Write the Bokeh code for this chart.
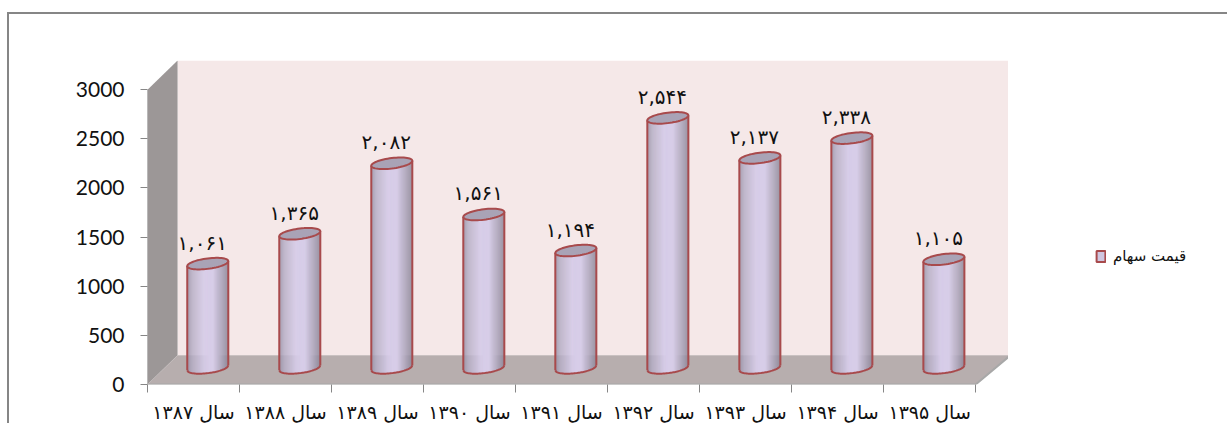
import numpy as np
from bokeh.plotting import figure
from bokeh.layouts import row
from bokeh.models import (Range1d, LinearAxis, FixedTicker, Legend, LegendItem)
from bokeh.core.properties import value
from bokeh.embed import file_html
from bokeh.resources import INLINE

categories = ["سال ۱۳۸۷", "سال ۱۳۸۸", "سال ۱۳۸۹", "سال ۱۳۹۰", "سال ۱۳۹۱", "سال ۱۳۹۲", "سال ۱۳۹۳", "سال ۱۳۹۴", "سال ۱۳۹۵"]
prices = [1061, 1365, 2082, 1561, 1194, 2544, 2137, 2338, 1105]
price_labels = ["۱,۰۶۱", "۱,۳۶۵", "۲,۰۸۲", "۱,۵۶۱", "۱,۱۹۴", "۲,۵۴۴", "۲,۱۳۷", "۲,۳۳۸", "۱,۱۰۵"]
y_ticks = [0, 500, 1000, 1500, 2000, 2500, 3000]
series_name = "قیمت سهام"

LABEL_FONT = "DejaVu Sans"
TICK_FONT = "Lato"

n = len(categories)
ymax = y_ticks[-1]
px_per_cat = 91.8
px_per_unit = 293 / ymax
depth_x = 30 / px_per_cat
depth_y = 29 / px_per_unit
y_end = ymax + depth_y

p = figure(width=1001, height=411, output_backend="svg", toolbar_location=None,
           x_range=Range1d(0, (1008 - 147) / px_per_cat), y_range=Range1d(0, (382 - 60) / px_per_unit),
           min_border_left=138, min_border_right=0, min_border_top=46, min_border_bottom=41,
           x_axis_location=None, y_axis_location=None, outline_line_color=None,
           background_fill_color="white", margin=(12, 0, 0, 7))
p.styles = {"border-top": "2px solid #868686", "border-left": "2px solid #868686", "box-sizing": "border-box"}
p.grid.visible = False

xr = p.x_range.end
p.quad(left=depth_x, right=xr, bottom=depth_y, top=y_end, fill_color="#f5e8e8", line_color=None)
p.patch([0, depth_x, depth_x, 0], [0, depth_y, y_end, ymax], fill_color="#9c9797", line_color=None)
p.patch([0, depth_x, xr, n], [0, depth_y, depth_y, 0], fill_color="#b7aeae", line_color=None)
p.line([0, n, xr], [0, 0, depth_y], line_color="#a8a8a8", line_width=2)
p.line([0, 0], [0, ymax], line_color="#8c8c8c", line_width=1)

half_w = 0.223
half_h = 5.2 / px_per_unit
tilt = 0.12 * (half_w * px_per_cat) / px_per_unit
ofs_x = 0.5 + 0.155
ofs_y = 16.5 / px_per_unit
strips = 40
edges = np.linspace(-1, 1, strips + 1)
mids = (edges[:-1] + edges[1:]) / 2


def shade(u):
    stops_u = [-1, -0.75, -0.2, 0.25, 0.65, 1]
    r = np.interp(u, stops_u, [150, 182, 214, 216, 178, 138])
    g = np.interp(u, stops_u, [144, 174, 204, 206, 170, 132])
    b = np.interp(u, stops_u, [165, 198, 232, 232, 192, 150])
    return "#%02x%02x%02x" % (int(r), int(g), int(b))


colors = [shade(u) for u in mids]
t = np.linspace(0, 2 * np.pi, 61)
u_low = np.linspace(-1, 1, 41)
L, R, B, T, C = [], [], [], [], []
tops_x, tops_y, side_xs, side_ys, low_xs, low_ys = [], [], [], [], [], []
for i, v in enumerate(prices):
    cx = i + ofs_x
    top = ofs_y + v
    for u0, u1, um, col in zip(edges[:-1], edges[1:], mids, colors):
        L.append(cx + u0 * half_w)
        R.append(cx + u1 * half_w + 0.002)
        B.append(ofs_y - half_h * np.sqrt(1 - um ** 2) + tilt * um)
        T.append(top + tilt * um)
        C.append(col)
    tops_x.append(cx + half_w * np.cos(t))
    tops_y.append(top + half_h * np.sin(t) + tilt * np.cos(t))
    side_xs += [[cx - half_w, cx - half_w], [cx + half_w, cx + half_w]]
    side_ys += [[ofs_y - tilt, top - tilt], [ofs_y + tilt, top + tilt]]
    low_xs.append(cx + half_w * u_low)
    low_ys.append(ofs_y - half_h * np.sqrt(1 - u_low ** 2) + tilt * u_low)

p.quad(left=L, right=R, bottom=B, top=T, fill_color=C, line_color=None)
RED = "#a84a4c"
p.multi_line(side_xs, side_ys, line_color=RED, line_width=2)
p.multi_line(low_xs, low_ys, line_color=RED, line_width=2)
p.patches(tops_x, tops_y, fill_color="#a9a3b6", line_color=RED, line_width=2)

p.text(x=[i + ofs_x - 0.06 for i in range(n)], y=[ofs_y + v for v in prices], text=price_labels,
       text_font=value(LABEL_FONT), text_font_size="20px", text_color="#111111",
       text_align="center", text_baseline="middle", y_offset=-21)

yaxis = LinearAxis(ticker=FixedTicker(ticks=y_ticks))
yaxis.axis_line_color = None
yaxis.major_tick_line_color = "#868686"
yaxis.major_tick_out = 7
yaxis.major_tick_in = 0
yaxis.minor_tick_line_color = None
yaxis.major_label_standoff = 16
yaxis.major_label_text_font = TICK_FONT
yaxis.major_label_text_font_size = "21px"
yaxis.major_label_text_color = "#111111"
p.add_layout(yaxis, "left")

xaxis = LinearAxis(ticker=FixedTicker(ticks=[i + 0.5 for i in range(n)], minor_ticks=list(range(n + 1))))
xaxis.major_label_overrides = {i + 0.5: c for i, c in enumerate(categories)}
xaxis.axis_line_color = None
xaxis.major_tick_line_color = None
xaxis.major_tick_in = 0
xaxis.major_tick_out = 0
xaxis.minor_tick_line_color = "#868686"
xaxis.minor_tick_out = 8
xaxis.minor_tick_in = 0
xaxis.major_label_standoff = 8
xaxis.major_label_text_font = LABEL_FONT
xaxis.major_label_text_font_size = "19px"
xaxis.major_label_text_color = "#111111"
p.add_layout(xaxis, "below")

# legend panel to the right of the plot
q = figure(width=219, height=411, output_backend="svg", toolbar_location=None,
           x_range=Range1d(0, 1), y_range=Range1d(0, 1),
           min_border_left=0, min_border_right=0, min_border_top=0, min_border_bottom=0,
           x_axis_location=None, y_axis_location=None, outline_line_color=None,
           background_fill_color="white", margin=(12, 0, 0, 0))
q.styles = {"border-top": "2px solid #868686", "box-sizing": "border-box"}
q.grid.visible = False
swatch = q.quad(left=[0], right=[0], bottom=[0], top=[0], fill_color="#cfc6e0", line_color=RED, line_width=2)
legend = Legend(items=[LegendItem(label=series_name, renderers=[swatch])], location=(87, 119),
                background_fill_alpha=0, border_line_color=None, glyph_width=11, glyph_height=14,
                label_text_font=LABEL_FONT, label_text_font_size="15px", label_text_color="#111111",
                padding=0, margin=0, label_standoff=7)
q.add_layout(legend, "center")

layout = row(p, q, spacing=0)
open("out.html", "w").write(file_html(layout, INLINE))
